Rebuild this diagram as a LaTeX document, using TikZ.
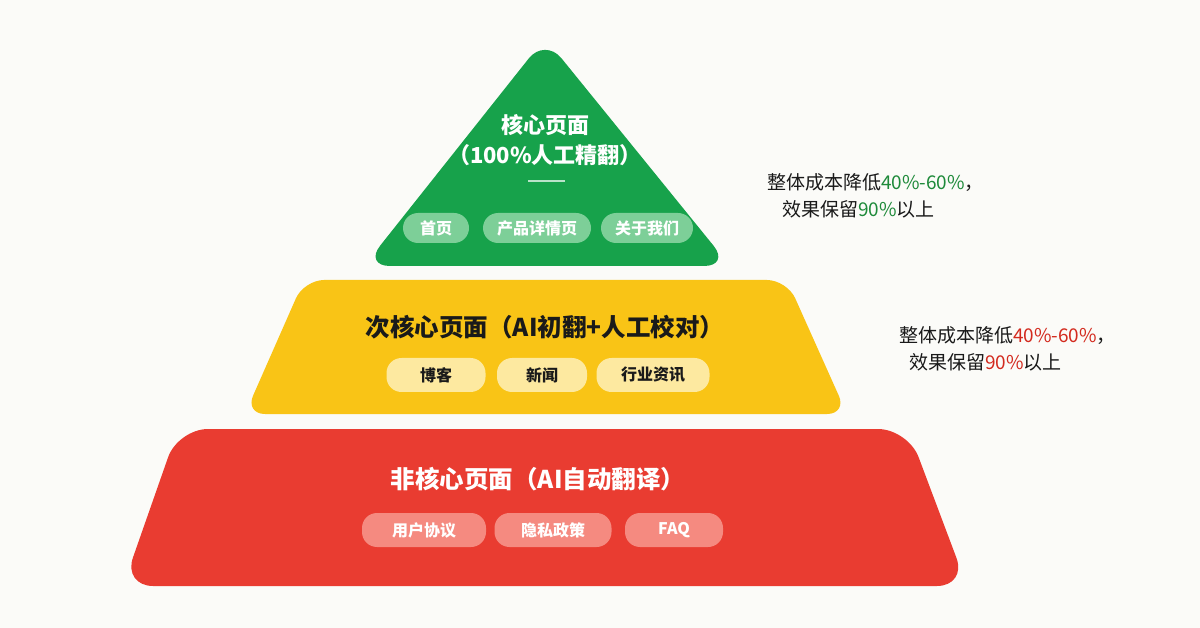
\documentclass[tikz,border=0pt]{standalone}
\usepackage{fontspec}
\setmainfont{Noto Sans CJK SC}
\definecolor{bgc}{HTML}{FBFBF8}
\definecolor{gr}{HTML}{17A24B}
\definecolor{grpill}{HTML}{7DCF98}
\definecolor{ye}{HTML}{F9C416}
\definecolor{yepill}{HTML}{FDE9A0}
\definecolor{re}{HTML}{E93C31}
\definecolor{repill}{HTML}{F58A80}
\definecolor{grtxt}{HTML}{1E8A3A}
\definecolor{retxt}{HTML}{D32A1E}
\definecolor{dark}{HTML}{1A1A1A}
\tikzset{
  pill/.style={rounded corners=15pt, minimum height=#1, inner sep=0pt, font=\bfseries\fontsize{16}{18}\selectfont},
  grpillst/.style={pill=30pt, fill=grpill, text=white},
  yepillst/.style={pill=34pt, fill=yepill, text=dark},
  repillst/.style={pill=34pt, fill=repill, text=white},
  ttl/.style={font=\bfseries\fontsize{22}{26}\selectfont, inner sep=0pt},
  bigttl/.style={font=\bfseries\fontsize{24.5}{28}\selectfont, inner sep=0pt},
  side/.style={font=\fontsize{19}{22}\selectfont, text=dark, inner sep=0pt, anchor=west}
}
\begin{document}
\begin{tikzpicture}[x=1pt,y=-1pt]
\fill[bgc] (0,0) rectangle (1200,628);
\useasboundingbox (0,0) rectangle (1200,628);
% layers
\fill[gr, rounded corners=26pt] (545,38) -- (730,266) -- (364,266) -- cycle;
\fill[ye, rounded corners=20pt] (304,280) -- (787,280) -- (847,414) -- (245,414) -- cycle;
\fill[re, rounded corners=30pt] (178,429) -- (908,429) -- (967,586) -- (123,586) -- cycle;
% green
\node[ttl, text=white] (g1) at (545,125) {核心页面};
\node[ttl, text=white] (g2) at (545,155) {（100\%人工精翻）};
\draw[white, opacity=0.7, line width=1.2pt] (528,181) -- (565,181);
\node[grpillst, minimum width=66pt] (p1) at (436,228) {首页};
\node[grpillst, minimum width=108pt] (p2) at (537,228) {产品详情页};
\node[grpillst, minimum width=92pt] (p3) at (647,228) {关于我们};
% yellow
\node[bigttl, text=dark] (y1) at (545,327) {次核心页面（AI初翻+人工校对）};
\node[yepillst, minimum width=99pt] (q1) at (436,375) {博客};
\node[yepillst, minimum width=90pt] (q2) at (542,375) {新闻};
\node[yepillst, minimum width=113pt] (q3) at (653,375) {行业资讯};
% red
\node[bigttl, text=white] (r1) at (538,479) {非核心页面（AI自动翻译）};
\node[repillst, minimum width=124pt] (s1) at (424,530) {用户协议};
\node[repillst, minimum width=117pt] (s2) at (553,530) {隐私政策};
\node[repillst, minimum width=98pt] (s3) at (674,530) {FAQ};
% side notes
\node[side] (a1) at (767,183) {整体成本降低\textcolor{grtxt}{40\%-60\%}，};
\node[side] (a2) at (782,209) {效果保留\textcolor{grtxt}{90\%}以上};
\node[side] (b1) at (899,336) {整体成本降低\textcolor{retxt}{40\%-60\%}，};
\node[side] (b2) at (909,362) {效果保留\textcolor{retxt}{90\%}以上};
\end{tikzpicture}
\end{document}
